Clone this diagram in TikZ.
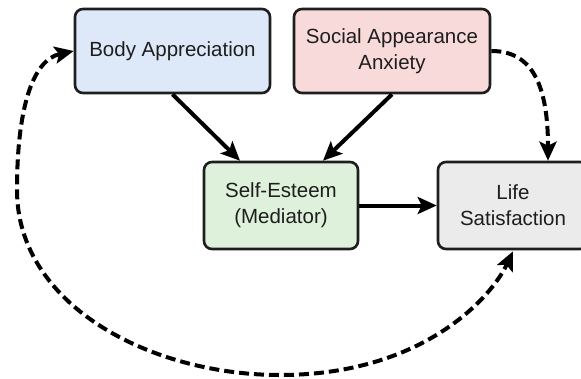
\documentclass[tikz,border=0pt]{standalone}
\usepackage{fontspec}
\setmainfont{Liberation Sans}
\usetikzlibrary{arrows.meta}
\definecolor{bluefill}{HTML}{DDE9F8}
\definecolor{pinkfill}{HTML}{F9DADA}
\definecolor{greenfill}{HTML}{DEF1DA}
\definecolor{grayfill}{HTML}{EBEBEB}
\definecolor{edge}{HTML}{1E1E1E}
\tikzset{
  tip/.tip={Stealth[length=19pt,width=17pt,inset=4pt]},
  box/.style={draw=edge, line width=2.6pt, rounded corners=8pt, align=center,
    font=\fontsize{20.5}{26}\selectfont, text=edge, inner sep=0pt},
  solidarrow/.style={line width=4pt, draw=black, -tip},
  dasharrow/.style={line width=4pt, draw=black, dash pattern=on 10pt off 5pt, -tip},
  dashboth/.style={line width=4pt, draw=black, dash pattern=on 10pt off 5pt, tip-tip},
}
\begin{document}
\begin{tikzpicture}[x=1pt,y=-1pt]
\useasboundingbox (0,0) rectangle (581,378);
\fill[white] (0,0) rectangle (581,378);
\node[box, fill=bluefill, minimum width=195pt, minimum height=84pt] (ba) at (172.5,51) {Body Appreciation};
\node[box, fill=pinkfill, minimum width=196pt, minimum height=84pt] (saa) at (392,51) {Social Appearance\\Anxiety};
\node[box, fill=greenfill, minimum width=154pt, minimum height=87pt] (se) at (281,205.5) {Self-Esteem\\(Mediator)};
\node[box, fill=grayfill, minimum width=150pt, minimum height=87pt] (ls) at (513,205.5) {Life\\Satisfaction};
\draw[solidarrow] (ba.south) -- ([xshift=-41pt]se.north);
\draw[solidarrow] (saa.south) -- ([xshift=42pt]se.north);
\draw[solidarrow] (se.east) -- (ls.west);
\draw[dasharrow] (saa.east) .. controls (528,51) and (548,78) .. ([xshift=35pt]ls.north);
\draw[dashboth] (ba.west) .. controls (32,60) and (17,110) .. (17,190)
  .. controls (17,305) and (150,375) .. (280,375)
  .. controls (420,375) and (490,300) .. ([yshift=-1pt]ls.south);
\end{tikzpicture}
\end{document}
